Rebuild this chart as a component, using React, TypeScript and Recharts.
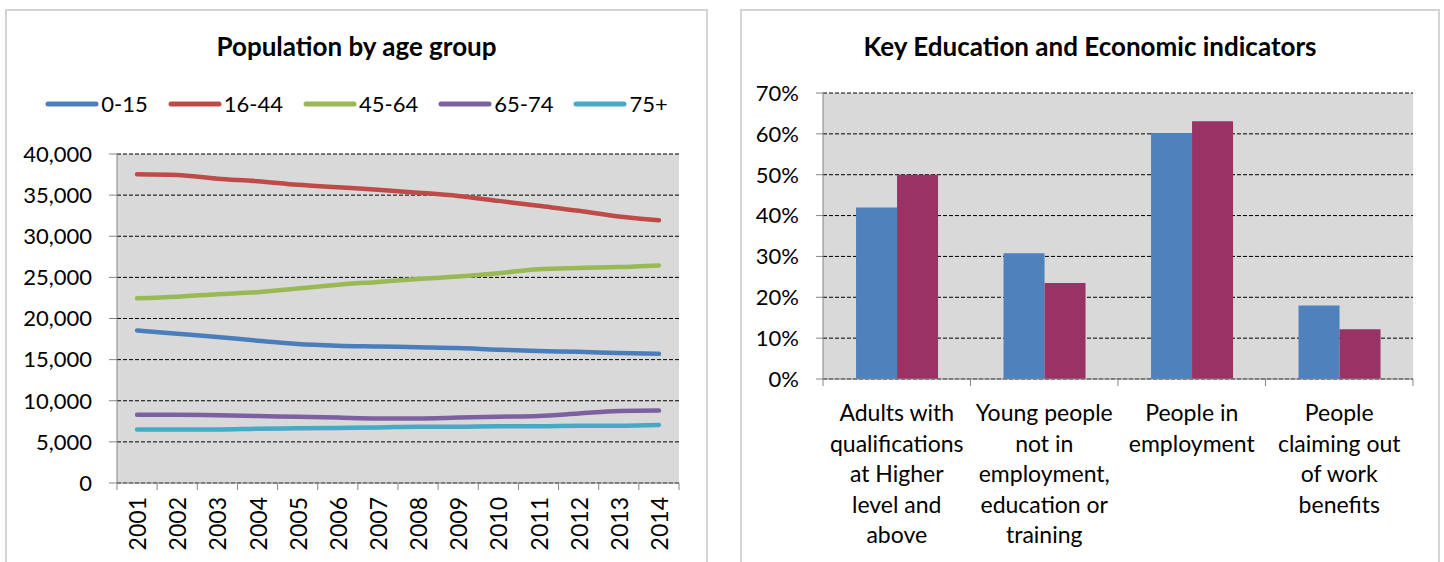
import React from 'react';
import { LineChart, Line, XAxis, YAxis, CartesianGrid, Legend, BarChart, Bar } from 'recharts';

const years = ['2001', '2002', '2003', '2004', '2005', '2006', '2007', '2008', '2009', '2010', '2011', '2012', '2013', '2014'];
const age0to15 = [18550, 18150, 17750, 17300, 16900, 16700, 16600, 16500, 16400, 16200, 16050, 15950, 15800, 15700];
const age16to44 = [37550, 37450, 37000, 36700, 36250, 35950, 35650, 35300, 34900, 34300, 33700, 33100, 32400, 31950];
const age45to64 = [22450, 22650, 22950, 23200, 23650, 24100, 24450, 24800, 25100, 25500, 26000, 26150, 26250, 26450];
const age65to74 = [8300, 8300, 8250, 8150, 8050, 7950, 7850, 7850, 7950, 8050, 8150, 8450, 8750, 8800];
const age75plus = [6500, 6500, 6500, 6600, 6650, 6700, 6750, 6850, 6850, 6900, 6900, 6950, 6950, 7050];
const seriesNames = ['0-15', '16-44', '45-64', '65-74', '75+'];
const seriesColors = ['#4A7EBB', '#BE4B48', '#98B954', '#7D60A0', '#46AAC5'];
const popTicks = [0, 5000, 10000, 15000, 20000, 25000, 30000, 35000, 40000];

const indicatorLabels = [
  'Adults with\nqualifications\nat Higher\nlevel and\nabove',
  'Young people\nnot in\nemployment,\neducation or\ntraining',
  'People in\nemployment',
  'People\nclaiming out\nof work\nbenefits',
];
const areaValues = [42, 30.8, 60.2, 18];
const comparatorValues = [50, 23.5, 63.1, 12.2];
const barColors = ['#4F81BD', '#993366'];
const pctTicks = [0, 10, 20, 30, 40, 50, 60, 70];

const FONT = 'Lato, "Liberation Sans", sans-serif';
const AXIS_GREY = '#868686';

const popSeries = [age0to15, age16to44, age45to64, age65to74, age75plus];
const popData = years.map((y, i) => {
  const row: any = { year: y };
  seriesNames.forEach((n, k) => { row[n] = popSeries[k][i]; });
  return row;
});

const barData = indicatorLabels.map((l, i) => ({ label: l, area: areaValues[i], comparator: comparatorValues[i] }));

// left chart geometry
const L_W = 703, L_H = 553;
const L_M = { top: 145, right: 29, bottom: 9, left: 12 };
const L_YW = 100;
const L_PLOT_W = L_W - L_M.left - L_M.right - L_YW;
const L_BW = L_PLOT_W / years.length;

// right chart geometry
const R_W = 700, R_H = 553;
const R_M = { top: 84, right: 27, bottom: 8, left: 0 };
const R_YW = 83;
const R_PLOT_W = R_W - R_M.left - R_M.right - R_YW;

const YearTick = (props: any) => {
  const { x, y, payload, index } = props;
  const bw = L_BW;
  return (
    <g>
      <line x1={x - bw / 2} x2={x - bw / 2} y1={y} y2={y + 7} stroke={AXIS_GREY} />
      {index === years.length - 1 && <line x1={x + bw / 2} x2={x + bw / 2} y1={y} y2={y + 7} stroke={AXIS_GREY} />}
      <text transform={`translate(${x},${y + 14}) rotate(-90)`} textAnchor="end" dominantBaseline="central" fontSize={23} fill="#000" fontFamily={FONT}>
        {payload.value}
      </text>
    </g>
  );
};

const IndicatorTick = (props: any) => {
  const { x, y, payload, index } = props;
  const bw = R_PLOT_W / indicatorLabels.length;
  const lines = String(payload.value).split('\n');
  return (
    <g>
      <line x1={x - bw / 2} x2={x - bw / 2} y1={y} y2={y + 7} stroke={AXIS_GREY} />
      {index === indicatorLabels.length - 1 && <line x1={x + bw / 2} x2={x + bw / 2} y1={y} y2={y + 7} stroke={AXIS_GREY} />}
      <text textAnchor="middle" fontSize={23} fill="#000" fontFamily={FONT}>
        {lines.map((ln, i) => (
          <tspan key={i} x={x} y={y + 33 + i * 30.5} dominantBaseline="central">{ln}</tspan>
        ))}
      </text>
    </g>
  );
};

const LegendContent = (props: any) => {
  const { payload } = props;
  return (
    <div style={{ display: 'flex', justifyContent: 'center', alignItems: 'center', fontFamily: FONT, fontSize: 22, color: '#000' }}>
      {(payload || []).map((p: any, i: number) => (
        <div key={i} style={{ display: 'flex', alignItems: 'center', marginRight: i < payload.length - 1 ? 20 : 0 }}>
          <svg width={54} height={10} style={{ display: 'block' }}>
            <line x1={3} x2={51} y1={5} y2={5} stroke={p.color} strokeWidth={5} strokeLinecap="round" />
          </svg>
          <span style={{ marginLeft: 2 }}>{p.value}</span>
        </div>
      ))}
    </div>
  );
};

const boxStyle: React.CSSProperties = {
  position: 'absolute',
  border: '2px solid #D4D4D4',
  background: '#fff',
  boxSizing: 'border-box',
};

const titleStyle: React.CSSProperties = {
  position: 'absolute',
  top: 20,
  left: 0,
  width: '100%',
  textAlign: 'center',
  fontFamily: FONT,
  fontWeight: 700,
  fontSize: 26,
  color: '#000',
  lineHeight: '30px',
};

export default function App() {
  return (
    <div style={{ position: 'absolute', left: 0, top: 0, width: 1444, height: 562, background: '#fff', overflow: 'hidden' }}>
      <div style={{ ...boxStyle, left: 5, top: 9, width: L_W, height: L_H + 10 }}>
        <div style={titleStyle}>Population by age group</div>
        <div style={{ position: 'absolute', left: -2, top: -2 }}>
          <LineChart width={L_W} height={L_H} data={popData} margin={L_M}>
            <CartesianGrid vertical={false} fill="#D9D9D9" stroke="#000" strokeDasharray="4 2" />
            <XAxis dataKey="year" tickLine={false} tickSize={0} tickMargin={0} height={70} interval={0}
              padding={{ left: L_BW / 2, right: L_BW / 2 }}
              axisLine={{ stroke: AXIS_GREY }} tick={<YearTick />} />
            <YAxis width={L_YW} domain={[0, 40000]} ticks={popTicks} interval={0} tickSize={8} tickMargin={17}
              tickFormatter={(v: number) => v.toLocaleString('en-US')}
              axisLine={{ stroke: AXIS_GREY }} tickLine={{ stroke: AXIS_GREY }}
              tick={{ fontSize: 22, fill: '#000', fontFamily: FONT }} />
            <Legend layout="horizontal" verticalAlign="middle" align="center" content={<LegendContent />}
              wrapperStyle={{ top: 81, left: 0, width: L_W, height: 30 }} />
            {seriesNames.map((n, k) => (
              <Line key={n} type="monotone" dataKey={n} name={n} stroke={seriesColors[k]} strokeWidth={4.5} dot={false} strokeLinecap="round" isAnimationActive={false} />
            ))}
          </LineChart>
        </div>
      </div>
      <div style={{ ...boxStyle, left: 740, top: 9, width: R_W, height: R_H + 10 }}>
        <div style={titleStyle}>Key Education and Economic indicators</div>
        <div style={{ position: 'absolute', left: -2, top: -2 }}>
          <BarChart width={R_W} height={R_H} data={barData} margin={R_M} barCategoryGap="22.4%" barGap={0}>
            <CartesianGrid vertical={false} fill="#D9D9D9" stroke="#000" strokeDasharray="4 2" />
            <XAxis dataKey="label" tickLine={false} tickSize={0} tickMargin={0} height={175} interval={0} axisLine={{ stroke: AXIS_GREY }} tick={<IndicatorTick />} />
            <YAxis width={R_YW} domain={[0, 70]} ticks={pctTicks} interval={0} tickSize={7} tickMargin={17}
              tickFormatter={(v: number) => `${v}%`}
              axisLine={{ stroke: AXIS_GREY }} tickLine={{ stroke: AXIS_GREY }}
              tick={{ fontSize: 22, fill: '#000', fontFamily: FONT }} />
            <Bar dataKey="area" name="Area" fill={barColors[0]} isAnimationActive={false} />
            <Bar dataKey="comparator" name="Comparator" fill={barColors[1]} isAnimationActive={false} />
          </BarChart>
        </div>
      </div>
    </div>
  );
}
